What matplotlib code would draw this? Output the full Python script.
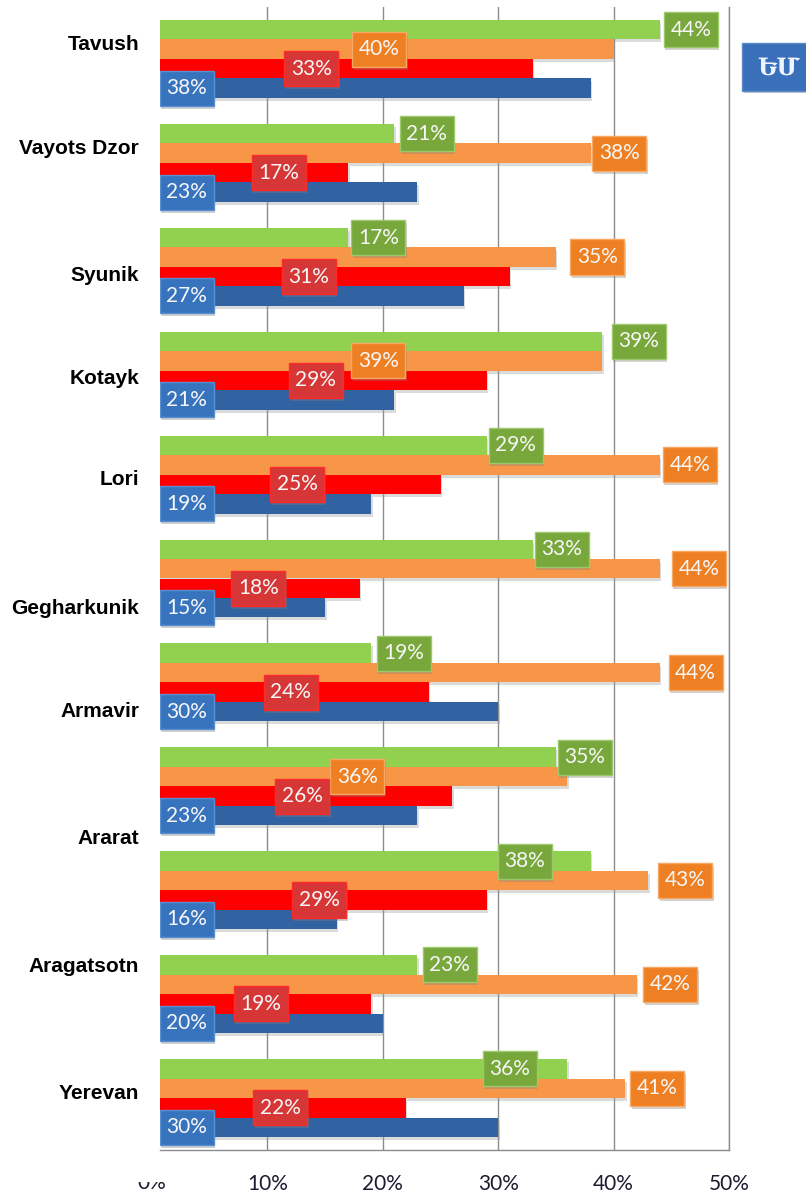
import matplotlib
matplotlib.use('Agg')
import matplotlib.pyplot as plt
from matplotlib.patches import Rectangle
import matplotlib.transforms as mtransforms
import numpy as np

# ---------------- data ----------------
n_groups = 11
cat_labels = ['Tavush', 'Vayots Dzor', 'Syunik', 'Kotayk', 'Lori', 'Gegharkunik',
              'Armavir', 'Ararat', 'Aragatsotn', 'Yerevan']
cat_label_pos = [-0.154, 0.846, 2.067, 3.058, 4.029, 5.269, 6.260, 7.481, 8.712, 9.933]

green = [44, 21, 17, 39, 29, 33, 19, 35, 38, 23, 36]
orange = [40, 38, 35, 39, 44, 44, 44, 36, 43, 42, 41]
red = [33, 17, 31, 29, 25, 18, 24, 26, 29, 19, 22]
blue = [38, 23, 27, 21, 19, 15, 30, 23, 16, 20, 30]

# data-label box centres (in % units)
green_lx = [46.7, 23.8, 19.6, 42.2, 31.5, 35.5, 21.8, 37.5, 32.3, 25.8, 31.0]
orange_lx = [19.7, 40.5, 38.6, 19.6, 46.6, 47.4, 47.1, 17.8, 46.2, 44.9, 43.8]
red_lx = [13.8, 11.0, 13.6, 14.2, 12.6, 9.2, 12.0, 13.0, 14.5, 9.4, 11.1]
blue_lx = [3.0] * 11

xticks = [10, 20, 30, 40, 50]
xtick_labels = ['10%', '20%', '30%', '40%', '50%']
button_text = 'ԵՄ'

# ---------------- figure ----------------
W, H = 806, 1196
fig = plt.figure(figsize=(W / 100, H / 100), dpi=100)
ax = fig.add_axes([160 / W, 1 - 1150 / H, (729 - 160) / W, (1150 - 7) / H])

idx = np.arange(n_groups)
bar_h = 0.1875
series = [
    (green, green_lx, -0.281, '#92D050', '#78A73C', '#9CC96A'),
    (orange, orange_lx, -0.094, '#F79646', '#EE7F22', '#F8A865'),
    (red, red_lx, 0.094, '#FF0000', '#D63636', '#FF2A2A'),
    (blue, blue_lx, 0.281, '#3162A2', '#3873BE', '#5A8FD0'),
]

shadow_tr = ax.transData + mtransforms.ScaledTranslation(1.5 / 100, -3 / 100, fig.dpi_scale_trans)

# bar shadows
for vals, _, off, *_ in series:
    for j, v in enumerate(vals):
        ax.add_patch(Rectangle((0, idx[j] + off - bar_h / 2), v, bar_h,
                               transform=shadow_tr, facecolor='#9a9a9a', alpha=0.35,
                               edgecolor='none', zorder=2))

for vals, _, off, col, _, _ in series:
    ax.barh(idx + off, vals, height=bar_h, color=col, edgecolor='none', zorder=3)

# data-label boxes
box_w = 4.68
box_h = 0.337
for vals, lxs, off, _, bcol, ecol in series:
    for j, (v, lx) in enumerate(zip(vals, lxs)):
        yc = idx[j] + off
        ax.add_patch(Rectangle((lx - box_w / 2, yc - box_h / 2), box_w, box_h,
                               transform=shadow_tr, facecolor='#808080', alpha=0.35,
                               edgecolor='none', zorder=4))
        ax.add_patch(Rectangle((lx - box_w / 2, yc - box_h / 2), box_w, box_h,
                               facecolor=bcol, edgecolor=ecol, linewidth=1.0, zorder=5))
        ax.text(lx, yc, f'{v}%', ha='center', va='center', color='#F7F7F7',
                fontsize=15, family='Lato', zorder=6)

ax.set_xlim(0.69, 50)
ax.set_ylim(n_groups - 0.5, -0.5)

ax.set_xticks(xticks)
ax.set_xticklabels(xtick_labels, fontsize=15, family='Lato', color='#1c1c30')
ax.set_yticks(cat_label_pos)
ax.set_yticklabels(cat_labels, fontsize=15, fontweight='bold', family='Liberation Sans',
                   color='black')
ax.tick_params(axis='x', length=0, pad=17)
ax.tick_params(axis='y', length=0, pad=15)
ax.grid(axis='x', color='#8c8c8c', linewidth=1.0, zorder=0)
ax.set_axisbelow(True)
for s in ['top', 'left']:
    ax.spines[s].set_visible(False)
for s in ['right', 'bottom']:
    ax.spines[s].set_color('#8c8c8c')
    ax.spines[s].set_linewidth(1.0)

# partially hidden 0% tick label
blend = mtransforms.blended_transform_factory(ax.transData, fig.transFigure)
t0 = ax.text(0, 1 - 1183 / H, '0%', transform=blend, ha='center', va='center',
             fontsize=15, family='Lato', color='#1c1c30', clip_on=True)
t0.set_clip_box(mtransforms.Bbox([[0, 0], [W, 14]]))

# blue button at top right
fig.patches.append(Rectangle((744 / W, 1 - 93 / H), 90 / W, 48 / H, transform=fig.transFigure,
                             facecolor='#9a9a9a', alpha=0.5, edgecolor='none', figure=fig))
fig.patches.append(Rectangle((742 / W, 1 - 91 / H), 90 / W, 48 / H, transform=fig.transFigure,
                             facecolor='#3A70BA', edgecolor='#5A8CCB', linewidth=1, figure=fig))
fig.text(778 / W, 1 - 68 / H, button_text, ha='center', va='center', fontsize=17,
         fontweight='bold', color='#EEF4FF', family=['DejaVu Serif', 'DejaVu Sans'])

fig.savefig('out.png', dpi=100)
